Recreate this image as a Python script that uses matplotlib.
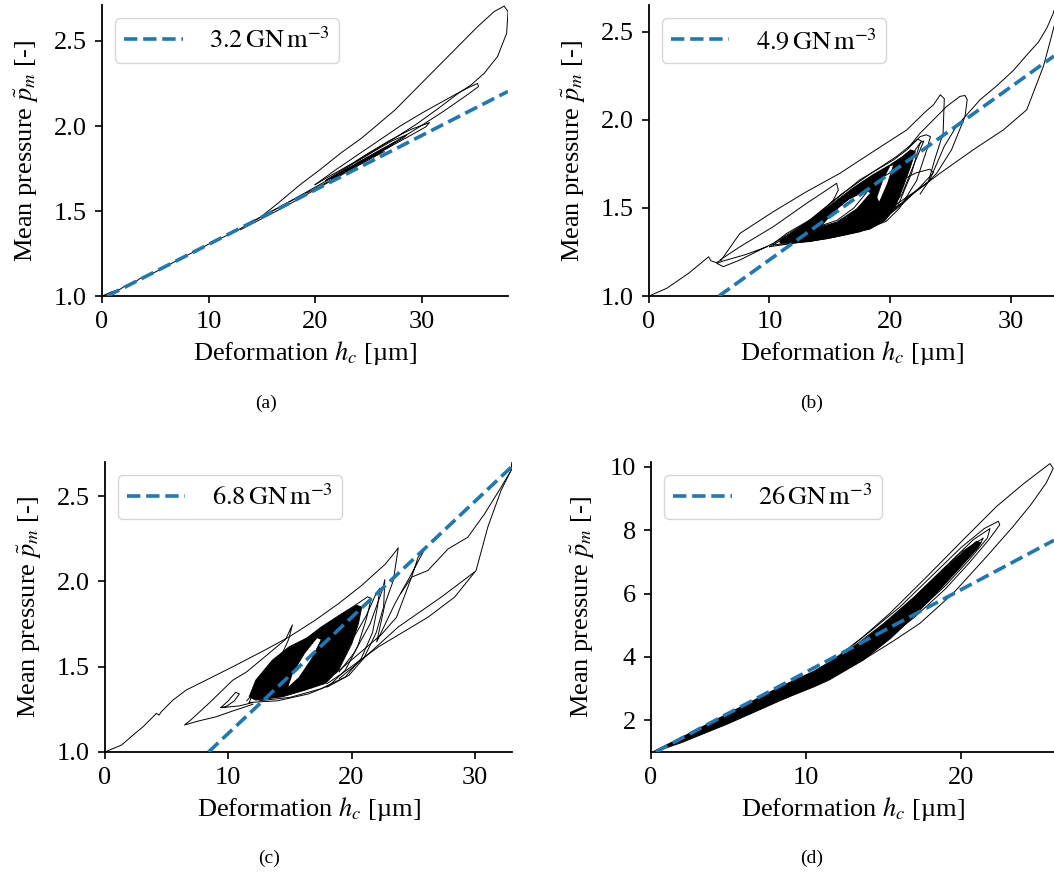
import matplotlib
matplotlib.use("Agg")
import matplotlib.pyplot as plt

plt.rcParams['font.family'] = ['Liberation Serif', 'DejaVu Serif']
plt.rcParams['mathtext.fontset'] = 'stix'

# ---------------- data ----------------
# fitted lines (end points) and their labels
a_fit = [(0.5, 1.0), (38.1, 2.203)]
b_fit = [(5.8, 1.0), (33.6, 2.362)]
c_fit = [(8.4, 1.0), (33.0, 2.673)]
d_fit = [(0.3, 1.0), (26.0, 7.68)]
fit_labels = [r'$3.2\,\mathrm{GN\,m^{-3}}$', r'$4.9\,\mathrm{GN\,m^{-3}}$',
              r'$6.8\,\mathrm{GN\,m^{-3}}$', r'$26\,\mathrm{GN\,m^{-3}}$']
sub_labels = ['(a)', '(b)', '(c)', '(d)']

# ---- panel (a)
a_main = [(0.0, 1.0), (0.9, 1.025), (1.7, 1.04), (2.2, 1.062), (2.8, 1.068), (3.6, 1.105),
          (4.5, 1.125), (6, 1.175), (8, 1.24), (10, 1.305), (12, 1.365), (14, 1.43),
          (14.9, 1.465), (16.5, 1.545), (18.6, 1.655), (20.5, 1.745), (22.5, 1.845),
          (24.4, 1.93), (27.5, 2.094), (30.6, 2.29), (33.09, 2.447), (35.26, 2.584),
          (36.82, 2.673), (37.75, 2.705), (38.12, 2.673), (37.99, 2.545), (37.13, 2.408),
          (35.88, 2.31), (34.64, 2.241), (33.4, 2.19), (31.5, 2.10), (29.5, 2.01),
          (27.5, 1.93), (25.5, 1.855), (23.5, 1.78), (21.5, 1.71), (20.0, 1.655)]
a_loop2 = [(20.0, 1.655), (22, 1.745), (24, 1.83), (26, 1.915), (28, 2.0), (30, 2.075),
           (32, 2.145), (33.6, 2.20), (34.6, 2.232), (35.26, 2.25), (35.35, 2.232),
           (34.33, 2.185), (32.15, 2.09), (30.3, 2.015), (28.4, 1.94), (26.5, 1.87),
           (24.5, 1.80), (22.5, 1.73), (21.0, 1.68)]
a_loop3 = [(21.0, 1.68), (23, 1.76), (25, 1.84), (27, 1.915), (29, 1.98), (30.75, 2.02),
           (30.4, 1.995), (28.4, 1.925), (26.5, 1.86), (24.5, 1.79), (22.5, 1.72), (21.5, 1.69)]
a_loop4 = [(21.5, 1.69), (23.5, 1.775), (25.5, 1.85), (27.3, 1.915), (28.6, 1.948),
           (28.3, 1.93), (26.5, 1.865), (24.5, 1.79), (22.5, 1.72), (22.0, 1.70)]
a_loop5 = [(22.0, 1.70), (24, 1.785), (26, 1.855), (27.6, 1.91), (27.2, 1.885),
           (25.5, 1.825), (23.5, 1.755), (22.5, 1.72)]
a_loop6 = [(22.5, 1.72), (24.5, 1.795), (26.3, 1.86), (27.0, 1.88), (26.5, 1.86),
           (24.8, 1.80), (23.0, 1.735)]
a_tail = [(23.0, 1.735), (21, 1.665), (19, 1.60), (17, 1.535), (15, 1.468), (13.5, 1.42)]
a_bundle = [(13.0, 1.39), (15, 1.455), (17, 1.52), (19, 1.59), (21, 1.66), (23, 1.73),
            (25, 1.80), (26.5, 1.85), (25, 1.81), (23, 1.745), (21, 1.675), (19, 1.605),
            (17, 1.535), (15, 1.465)]

# ---- panel (b)
b_start = [(0.0, 1.0), (1.5, 1.045), (3.3, 1.13), (4.95, 1.223), (5.15, 1.20),
           (5.6, 1.19), (6.0, 1.205)]
b_outer = [(6.0, 1.205), (7.55, 1.356), (10.32, 1.479), (13.09, 1.593), (15.85, 1.697),
           (18.6, 1.82), (21.39, 1.943), (23.0, 2.05), (23.6, 2.085), (24.17, 2.142),
           (24.5, 2.12), (24.4, 1.924), (23.7, 1.773), (23.18, 1.649), (22.0, 1.59),
           (20.5, 1.52)]
b_loop_left = [(5.9, 1.205), (7.55, 1.28), (10.32, 1.394), (13.09, 1.527), (14.75, 1.602),
               (15.57, 1.64), (15.71, 1.602), (15.3, 1.545), (14.19, 1.47), (12.53, 1.394),
               (10.32, 1.30), (7.55, 1.205), (6.17, 1.167), (5.62, 1.186), (6.2, 1.2),
               (8.0, 1.235), (9.8, 1.28)]
b_tip2 = [(21.5, 1.84), (22.49, 1.924), (24.7, 2.076), (25.8, 2.133), (26.22, 2.138),
          (26.4, 2.114), (26.22, 2.019), (25.1, 1.83), (23.87, 1.697), (23.05, 1.64),
          (21.5, 1.56), (20.0, 1.47)]
b_right_up = [(22.5, 1.58), (23.3, 1.66), (24.5, 1.85), (25.5, 1.962), (27.47, 2.114),
              (28.8, 2.19), (30.23, 2.28), (31.5, 2.38), (32.3, 2.44), (33.0, 2.52),
              (33.55, 2.606), (33.6, 2.62)]
b_right_down = [(33.6, 2.53), (33.3, 2.45), (32.72, 2.303), (31.34, 2.057), (29.4, 1.943),
                (26.9, 1.83), (24.15, 1.697), (21.93, 1.583), (20.5, 1.50)]
b_core = [(10.87, 1.30), (13.36, 1.309), (16.12, 1.345), (18.34, 1.38), (19.6, 1.43),
          (20.4, 1.50), (21.1, 1.62), (21.7, 1.735), (22.1, 1.82),
          (21.7, 1.83), (21.0, 1.79), (20.0, 1.745), (18.61, 1.69), (16.95, 1.615),
          (14.75, 1.50), (13.36, 1.43), (11.98, 1.365), (10.87, 1.318)]
b_hole1 = [(14.3, 1.395), (15.58, 1.42), (17.24, 1.495), (18.4, 1.585), (18.05, 1.60),
           (16.6, 1.55), (15.1, 1.47)]
b_hole2 = [(19.1, 1.53), (19.8, 1.64), (20.3, 1.745), (20.0, 1.74), (19.4, 1.66),
           (18.9, 1.56)]
b_loopA = [(10.0, 1.28), (12.0, 1.30), (14.75, 1.325), (17.5, 1.365), (19.7, 1.425),
           (20.8, 1.50), (22.2, 1.655), (23.05, 1.83), (23.35, 1.905), (23.0, 1.915),
           (22.5, 1.905), (21.4, 1.83), (20.3, 1.773), (17.5, 1.66), (14.75, 1.507),
           (13.36, 1.432), (11.43, 1.356), (10.0, 1.28)]
b_loopB = [(10.3, 1.29), (12.5, 1.305), (15, 1.33), (17.5, 1.37), (19.5, 1.43), (20.7, 1.52),
           (21.8, 1.70), (22.4, 1.85), (22.6, 1.88), (22.3, 1.89), (21.6, 1.85), (20.5, 1.79),
           (18.5, 1.70), (16, 1.58), (13.5, 1.44), (11.5, 1.34), (10.3, 1.29)]
b_loopC = [(19.5, 1.44), (21, 1.52), (22.5, 1.62), (23.6, 1.70), (23.3, 1.72), (22.2, 1.70),
           (21, 1.66)]
b_loopD = [(14.3, 1.40), (15.6, 1.43), (17.0, 1.50), (18.2, 1.60), (17.9, 1.61),
           (16.5, 1.55), (15.2, 1.47), (14.3, 1.40)]
b_loopE = [(11.0, 1.30), (13.5, 1.32), (16.0, 1.355), (18.0, 1.40), (19.8, 1.47),
           (21.0, 1.58), (22.0, 1.75), (22.8, 1.88), (22.5, 1.87), (21.8, 1.80),
           (20.8, 1.73), (19.0, 1.66), (17.0, 1.58), (14.5, 1.46), (12.5, 1.37), (11.0, 1.30)]

# ---- panel (c)
c_start = [(0.0, 1.0), (1.35, 1.041), (2.28, 1.099), (3.09, 1.148), (4.17, 1.226),
           (4.38, 1.216), (4.57, 1.236), (5.51, 1.304), (6.59, 1.363), (8.2, 1.421),
           (10.35, 1.499), (13.04, 1.60), (14.92, 1.674), (17.0, 1.77), (18.95, 1.87),
           (20.83, 1.977), (22.72, 2.10), (23.4, 2.16), (23.79, 2.197), (23.39, 2.006),
           (22.72, 1.87), (22.04, 1.645), (23.52, 1.87), (24.87, 2.045), (25.94, 2.19),
           (25.4, 2.142), (24.87, 2.025), (23.65, 1.79), (22.44, 1.69), (20.5, 1.57),
           (18.68, 1.46)]
c_loop_left = [(11.5, 1.30), (13.0, 1.42), (14.2, 1.55), (14.9, 1.66), (15.2, 1.745),
               (14.65, 1.66), (13.0, 1.56), (11.5, 1.47), (10.35, 1.42), (8.5, 1.29),
               (7.0, 1.19), (6.45, 1.158), (7.5, 1.18), (9.0, 1.206), (10.35, 1.24),
               (11.2, 1.26), (12.0, 1.28)]
c_small = [(9.4, 1.26), (10.0, 1.30), (10.6, 1.35), (10.9, 1.34), (10.5, 1.30), (9.8, 1.265),
           (9.4, 1.26), (10.9, 1.27), (12.0, 1.29)]
c_right_up = [(24.0, 1.93), (24.87, 2.025), (26.2, 2.064), (27.82, 2.19), (29.43, 2.259),
              (30.78, 2.395), (32.12, 2.551), (32.93, 2.649), (33.0, 2.70)]
c_down = [(33.0, 2.66), (32.12, 2.532), (31.05, 2.318), (30.1, 2.064), (28.36, 1.908),
          (26.2, 1.79), (22.18, 1.616), (19.22, 1.46), (18.0, 1.40)]
c_down2 = [(29.97, 2.055), (27.28, 1.908), (23.79, 1.733), (21.1, 1.557), (19.0, 1.43)]
c_core = [(12.23, 1.304), (14.38, 1.323), (16.26, 1.363), (17.88, 1.402), (18.95, 1.48),
          (20.03, 1.636), (20.56, 1.752), (20.83, 1.85), (20.43, 1.86), (19.22, 1.811),
          (18.41, 1.772), (17.6, 1.733), (16.53, 1.674), (14.92, 1.616), (13.57, 1.538),
          (12.23, 1.421), (11.69, 1.323)]
c_hole = [(14.8, 1.375), (15.73, 1.435), (16.8, 1.55), (17.55, 1.66), (17.2, 1.67),
          (16.2, 1.58), (15.2, 1.46)]
c_loopA = [(11.7, 1.29), (14, 1.30), (16.5, 1.34), (18.2, 1.39), (19.5, 1.48), (20.5, 1.62),
           (21.2, 1.78), (21.6, 1.90), (21.3, 1.91), (20.5, 1.87), (19, 1.80), (17.5, 1.73),
           (15.5, 1.62), (13.5, 1.50), (12.2, 1.38), (11.7, 1.29)]
c_loopB = [(12.5, 1.30), (15, 1.32), (17.5, 1.37), (19.5, 1.44), (20.8, 1.55), (21.7, 1.70),
           (22.1, 1.85), (22.3, 1.96), (22.0, 1.93), (21.2, 1.80), (20.0, 1.65), (18.5, 1.52),
           (17, 1.43)]
c_loopC = [(18.0, 1.38), (19.8, 1.45), (21.0, 1.55), (22.0, 1.70), (22.6, 1.85),
           (22.7, 2.01), (22.5, 1.95), (21.5, 1.75), (20.2, 1.58), (19, 1.47)]

# ---- panel (d)
d_outer = [(0.2, 1.0), (2, 1.4), (5, 2.1), (8, 2.85), (10, 3.35), (12, 3.95), (13.7, 4.64),
           (15.42, 5.38), (17.79, 6.53), (20.15, 7.70), (22.3, 8.75), (24.0, 9.45),
           (24.88, 9.78), (25.74, 10.1), (25.95, 9.95), (25.5, 9.49), (24.5, 8.8),
           (23.37, 8.12), (21.66, 7.17), (19.5, 6.01), (17.35, 5.06), (15.63, 4.5),
           (13.5, 3.85), (11, 3.2), (8, 2.55), (5, 1.9), (2, 1.3), (0.2, 1.0)]
d_loop2 = [(12, 4.0), (14, 4.75), (16, 5.55), (18, 6.5), (20, 7.45), (21.5, 8.05),
           (22.41, 8.28), (22.5, 8.17), (21.8, 7.7), (20.5, 6.95), (19, 6.15), (17, 5.25),
           (15, 4.5), (13, 3.9)]
d_loop3 = [(13, 4.3), (15, 5.05), (17, 5.9), (19, 6.85), (20.8, 7.7), (21.87, 8.05),
           (21.7, 7.75), (20.5, 7.05), (19, 6.25), (17, 5.35), (15, 4.62), (13, 4.0)]
d_loop4 = [(14, 4.55), (16, 5.4), (18, 6.35), (20, 7.3), (21.44, 7.75), (21.1, 7.45),
           (19.8, 6.75), (18, 5.85), (16, 5.0), (14, 4.3)]
d_loop5 = [(15, 4.9), (17, 5.75), (19, 6.75), (20.6, 7.5), (20.3, 7.2), (18.8, 6.4),
           (17, 5.55), (15, 4.75)]
d_core = [(0.2, 1.0), (2, 1.32), (4.9, 1.88), (8.3, 2.62), (10.5, 3.05), (11.5, 3.27),
          (13.7, 3.9), (15.5, 4.6), (17, 5.3), (18.5, 6.05), (19.8, 6.75), (20.8, 7.3),
          (21.3, 7.6), (21.0, 7.65), (20, 7.25), (18.4, 6.55), (16.9, 5.85), (15.4, 5.2),
          (13.9, 4.6), (12.6, 4.15), (10.5, 3.55), (8.3, 3.05), (4.9, 2.2), (2, 1.47),
          (0.2, 1.03)]

# axis settings per panel
x_limits = [(0, 38.1), (0, 33.6), (0, 33.0), (0, 26.0)]
y_limits = [(1.0, 2.71), (1.0, 2.65), (1.0, 2.70), (1.0, 10.15)]
x_ticks = [[0, 10, 20, 30], [0, 10, 20, 30], [0, 10, 20, 30], [0, 10, 20]]
y_ticks = [[1.0, 1.5, 2.0, 2.5], [1.0, 1.5, 2.0, 2.5], [1.0, 1.5, 2.0, 2.5], [2, 4, 6, 8, 10]]
y_fmt = ['{:.1f}', '{:.1f}', '{:.1f}', '{:d}']

panel_lines = [
    [a_main, a_loop2, a_loop3, a_loop4, a_loop5, a_loop6, a_tail, a_bundle],
    [b_start, b_outer, b_loop_left, b_tip2, b_right_up, b_right_down,
     b_loopA, b_loopB, b_loopC, b_loopD, b_loopE],
    [c_start, c_loop_left, c_small, c_right_up, c_down, c_down2, c_loopA, c_loopB, c_loopC],
    [d_outer, d_loop2, d_loop3, d_loop4, d_loop5],
]
panel_cores = [[], [b_core], [c_core], [d_core]]
panel_holes = [[], [b_hole1, b_hole2], [c_hole], []]
fits = [a_fit, b_fit, c_fit, d_fit]

# ---------------- figure ----------------
fig = plt.figure(figsize=(10.54, 8.76), dpi=100)
rects = [[0.0968, 0.662, 0.385, 0.332],
         [0.6157, 0.662, 0.3843, 0.332],
         [0.0996, 0.1416, 0.386, 0.331],
         [0.6177, 0.1416, 0.3823, 0.331]]
sub_pos = [(0.252, 0.539), (0.770, 0.539), (0.255, 0.0205), (0.770, 0.0205)]

FS = 19
for i in range(4):
    ax = fig.add_axes(rects[i])
    for core in panel_cores[i]:
        xs, ys = zip(*core)
        ax.fill(xs, ys, color='black', lw=0.6, zorder=1.5)
    for hole in panel_holes[i]:
        xs, ys = zip(*hole)
        ax.fill(xs, ys, facecolor='white', edgecolor='black', lw=0.6, zorder=1.6)
    for seg in panel_lines[i]:
        xs, ys = zip(*seg)
        ax.plot(xs, ys, color='black', lw=0.7, zorder=2)
    fx, fy = zip(*fits[i])
    ax.plot(fx, fy, color='#1f77b4', lw=2.6, ls='--', zorder=3, label=fit_labels[i])

    ax.set_xlim(*x_limits[i])
    ax.set_ylim(*y_limits[i])
    ax.set_xticks(x_ticks[i])
    ax.set_yticks(y_ticks[i])
    ax.set_yticklabels([y_fmt[i].format(v) for v in y_ticks[i]])
    ax.spines['top'].set_visible(False)
    ax.spines['right'].set_visible(False)
    for s in ('left', 'bottom'):
        ax.spines[s].set_linewidth(1.3)
    ax.tick_params(labelsize=FS, length=5, width=1.2, pad=6)
    ax.set_xlabel(r'Deformation $h_c$ [µm]', fontsize=FS, labelpad=4)
    ax.set_ylabel(r'Mean pressure $\tilde{p}_m$ [-]', fontsize=FS, labelpad=9)
    ax.legend(loc='upper left', fontsize=FS, handlelength=2.2, handletextpad=1.0,
              borderpad=0.35)
    fig.text(sub_pos[i][0], sub_pos[i][1], sub_labels[i], fontsize=14,
             ha='center', va='center')

fig.savefig('out.png', dpi=100)
